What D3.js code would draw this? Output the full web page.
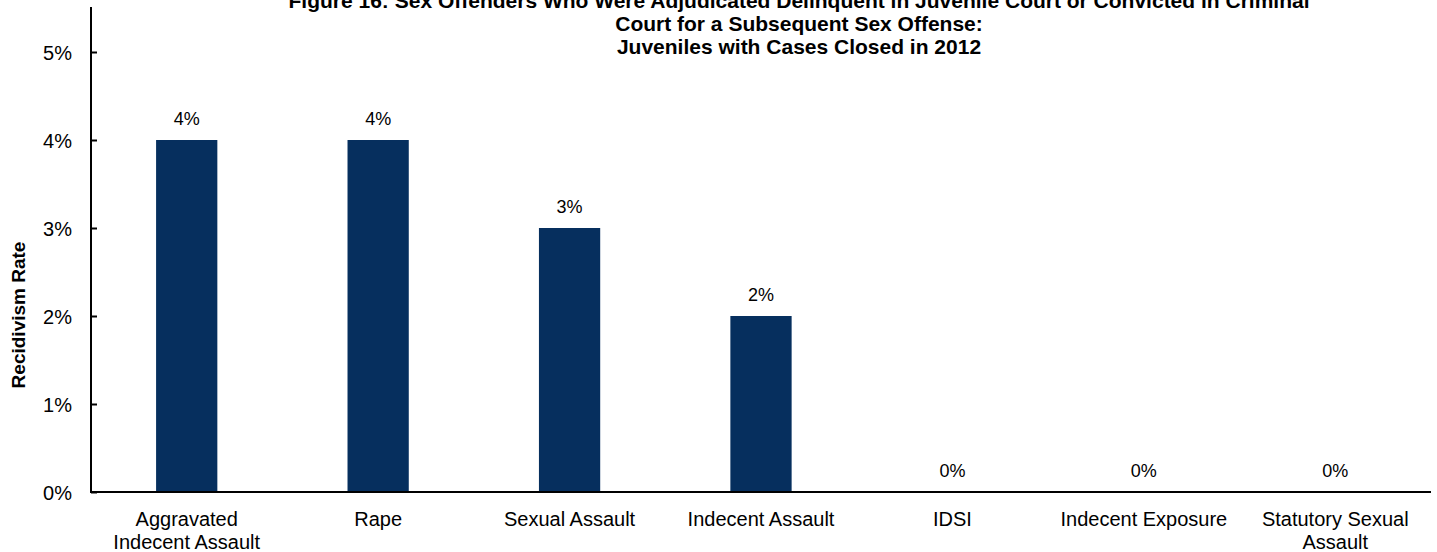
<!DOCTYPE html>
<html><head><meta charset="utf-8">
<script src="https://cdn.jsdelivr.net/npm/d3@7"></script>
<style>body{margin:0;background:#fff}svg{display:block}text{font-family:"Liberation Sans",Arial,sans-serif;fill:#000}</style>
</head><body><svg id="c" width="1437" height="552"></svg>
<script>
const categories = [["Aggravated","Indecent Assault"],["Rape"],["Sexual Assault"],["Indecent Assault"],["IDSI"],["Indecent Exposure"],["Statutory Sexual","Assault"]];
const values = [4,4,3,2,0,0,0];
const yTicks = [0,1,2,3,4,5];
const titleLines = ["Figure 16: Sex Offenders Who Were Adjudicated Delinquent in Juvenile Court or Convicted in Criminal","Court for a Subsequent Sex Offense:","Juveniles with Cases Closed in 2012"];

const svg = d3.select("#c");
const m = {l:91, r:1431, t:52, b:492};
const keys = categories.map((c,i)=>i);
const x = d3.scaleBand().domain(keys).range([m.l,m.r]).paddingInner(0.68).paddingOuter(0.34);
const y = d3.scaleLinear().domain([0,5]).range([m.b,m.t]);

svg.append("g").selectAll("rect").data(values).join("rect")
  .attr("x",(d,i)=>x(i)).attr("width",x.bandwidth())
  .attr("y",d=>y(d)).attr("height",d=>y(0)-y(d)).attr("fill","#062f5e");

svg.append("g").selectAll("text").data(values).join("text")
  .attr("x",(d,i)=>x(i)+x.bandwidth()/2).attr("y",d=>y(d)-15)
  .attr("text-anchor","middle").style("font-size","18px").text(d=>d+"%");

const ya = svg.append("g").attr("transform",`translate(${m.l},0)`)
  .call(d3.axisRight(y).tickValues(yTicks).tickFormat(d=>d+"%").tickSize(6).tickPadding(0));
ya.select(".domain").attr("stroke","#000").attr("stroke-width",2).attr("d",`M0,${m.t-45}V${m.b}`);
ya.selectAll(".tick line").attr("stroke","#000").attr("stroke-width",2);
ya.selectAll(".tick text").attr("x",-19).attr("text-anchor","end").attr("dy","0.35em").style("font-size","20px");

svg.append("line").attr("x1",m.l-1).attr("x2",m.r).attr("y1",m.b).attr("y2",m.b).attr("stroke","#000").attr("stroke-width",2);

const xl = svg.append("g").selectAll("text").data(categories).join("text")
  .attr("text-anchor","middle").style("font-size","20px")
  .attr("transform",(d,i)=>`translate(${x(i)+x.bandwidth()/2},0)`);
xl.selectAll("tspan").data(d=>d).join("tspan").attr("x",0).attr("y",(d,j)=>526+j*23).text(d=>d);

svg.append("text").attr("transform","translate(25,315) rotate(-90)").attr("text-anchor","middle")
  .style("font-size","19px").style("font-weight","bold").text("Recidivism Rate");

svg.append("g").selectAll("text").data(titleLines).join("text")
  .attr("x",799).attr("y",(d,i)=>8+i*23).attr("text-anchor","middle")
  .style("font-size","21px").style("font-weight","bold").text(d=>d);
</script></body></html>
